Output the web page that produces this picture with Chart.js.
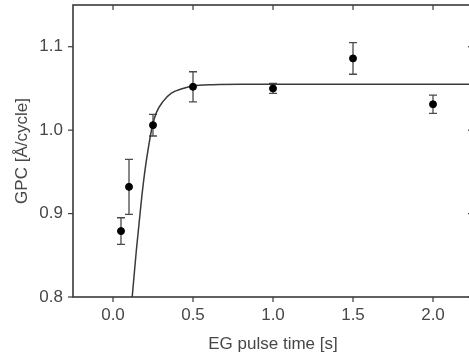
<!DOCTYPE html>
<html><head><meta charset="utf-8">
<script src="https://cdn.jsdelivr.net/npm/chart.js@4/dist/chart.umd.min.js"></script>
<style>
html,body{margin:0;padding:0;background:#fff;overflow:hidden;width:469px;height:362px}
#wrap{width:480px;height:362px;position:relative}
</style></head><body>
<div id="wrap"><canvas id="c" width="480" height="362"></canvas></div>
<script>
// measured data
const pulseTimes = [0.05, 0.1, 0.25, 0.5, 1.0, 1.5, 2.0];
const gpcValues  = [0.879, 0.932, 1.006, 1.052, 1.050, 1.086, 1.031];
const gpcErrors  = [0.016, 0.033, 0.013, 0.018, 0.006, 0.019, 0.011];
// fitted curve
const fitTimes  = [0.12, 0.146, 0.177, 0.2, 0.222, 0.246, 0.271, 0.313, 0.365, 0.4375, 0.5, 0.625, 0.8, 2.25];
const fitValues = [0.80, 0.856, 0.915, 0.952, 0.980, 1.005, 1.021, 1.0345, 1.0444, 1.050, 1.053, 1.0545, 1.055, 1.055];
// tick labels
const xTickValues = [0.0, 0.5, 1.0, 1.5, 2.0];
const xTickLabels = ['0.0', '0.5', '1.0', '1.5', '2.0'];
const yTickValues = [0.8, 0.9, 1.0, 1.1];
const yTickLabels = ['0.8', '0.9', '1.0', '1.1'];
const xTitle = 'EG pulse time [s]';
const yTitle = 'GPC [Å/cycle]';

const axisColor = '#3a3a3a';
const textColor = '#474747';
const fontFamily = '"Liberation Sans", Arial, sans-serif';

function findIdx(vals, v) {
  for (let i = 0; i < vals.length; i++) if (Math.abs(vals[i] - v) < 1e-6) return i;
  return -1;
}

const errorBars = {
  id: 'errorBars',
  beforeDatasetsDraw(chart) {
    const {ctx, scales: {x, y}} = chart;
    ctx.save();
    ctx.strokeStyle = '#4a4a4a';
    ctx.lineWidth = 1.3;
    pulseTimes.forEach((t, i) => {
      const px = x.getPixelForValue(t);
      const yt = y.getPixelForValue(gpcValues[i] + gpcErrors[i]);
      const yb = y.getPixelForValue(gpcValues[i] - gpcErrors[i]);
      ctx.beginPath();
      ctx.moveTo(px, yt); ctx.lineTo(px, yb);
      ctx.moveTo(px - 4, yt); ctx.lineTo(px + 4, yt);
      ctx.moveTo(px - 4, yb); ctx.lineTo(px + 4, yb);
      ctx.stroke();
    });
    ctx.restore();
  }
};

const frame = {
  id: 'frame',
  afterDraw(chart) {
    const {ctx, chartArea: a, scales: {x, y}} = chart;
    ctx.save();
    ctx.strokeStyle = axisColor;
    ctx.lineWidth = 1.6;
    ctx.strokeRect(a.left, a.top, a.right - a.left, a.bottom - a.top);
    ctx.lineWidth = 1.2;
    const seg = (x1, y1, x2, y2) => { ctx.beginPath(); ctx.moveTo(x1, y1); ctx.lineTo(x2, y2); ctx.stroke(); };
    x.ticks.forEach(t => {
      const px = x.getPixelForValue(t.value);
      const len = findIdx(xTickValues, t.value) >= 0 ? 5 : 3;
      seg(px, a.bottom, px, a.bottom + len);
      seg(px, a.top, px, a.top + len);
    });
    y.ticks.forEach(t => {
      const py = y.getPixelForValue(t.value);
      const len = findIdx(yTickValues, t.value) >= 0 ? 5 : 3;
      seg(a.left - len, py, a.left, py);
      seg(a.right - len, py, a.right, py);
    });
    ctx.restore();
  }
};

new Chart(document.getElementById('c'), {
  type: 'scatter',
  data: {
    datasets: [
      {
        label: 'GPC',
        data: pulseTimes.map((t, i) => ({x: t, y: gpcValues[i]})),
        backgroundColor: '#000',
        borderColor: '#000',
        pointRadius: 3.5,
        pointStyle: 'circle',
        order: 0
      },
      {
        label: 'fit',
        data: fitTimes.map((t, i) => ({x: t, y: fitValues[i]})),
        showLine: true,
        borderColor: '#3a3a3a',
        borderWidth: 1.5,
        pointRadius: 0,
        cubicInterpolationMode: 'monotone',
        fill: false,
        order: 1
      }
    ]
  },
  options: {
    responsive: false,
    animation: false,
    devicePixelRatio: 1,
    layout: {padding: {left: 0, top: 3, right: 7, bottom: 0}},
    plugins: {legend: {display: false}, tooltip: {enabled: false}},
    scales: {
      x: {
        type: 'linear',
        min: -0.25, max: 2.25,
        grid: {display: false, drawTicks: false},
        border: {display: false},
        ticks: {
          stepSize: 0.25,
          padding: 8,
          maxRotation: 0,
          autoSkip: false,
          color: textColor,
          font: {family: fontFamily, size: 17},
          callback: (v) => { const i = findIdx(xTickValues, v); return i >= 0 ? xTickLabels[i] : null; }
        },
        title: {display: true, text: xTitle, color: textColor, font: {family: fontFamily, size: 17}, padding: {top: 0, bottom: 7}},
        afterFit: (s) => { s.height = 65; s.paddingLeft = 0; s.paddingRight = 0; }
      },
      y: {
        type: 'linear',
        min: 0.8, max: 1.15,
        grid: {display: false, drawTicks: false},
        border: {display: false},
        ticks: {
          stepSize: 0.05,
          padding: 10,
          autoSkip: false,
          color: textColor,
          font: {family: fontFamily, size: 17},
          callback: (v) => { const i = findIdx(yTickValues, v); return i >= 0 ? yTickLabels[i] : null; }
        },
        title: {display: true, text: yTitle, color: textColor, font: {family: fontFamily, size: 17}, padding: {top: 12, bottom: 0}},
        afterFit: (s) => { s.width = 73; s.paddingTop = 0; s.paddingBottom = 0; }
      }
    }
  },
  plugins: [errorBars, frame]
});
</script>
</body></html>
